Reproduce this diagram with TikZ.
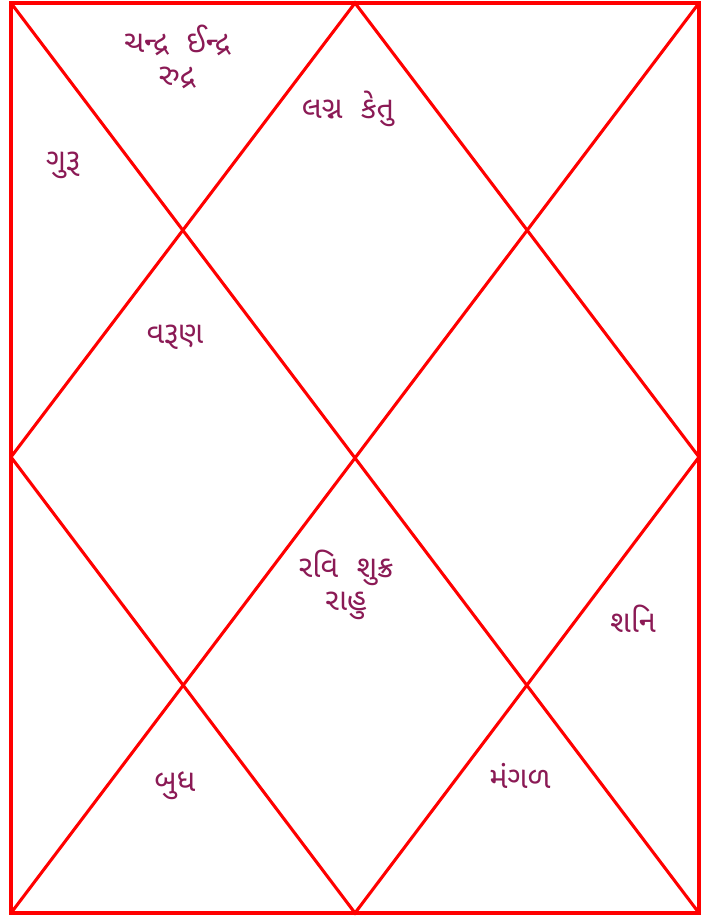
\documentclass[tikz,border=0pt]{standalone}
\usepackage{fontspec}
\usepackage{tikz}
\usetikzlibrary{positioning, calc}
\newfontfamily\gujfont[Script=Gujarati]{Noto Sans Gujarati UI}
\definecolor{chLine}{HTML}{FF0000}
\definecolor{chText}{HTML}{8B1A55}
\tikzset{
  chartline/.style={draw=chLine, line width=2.3pt, line join=miter},
  planet/.style={font=\gujfont\fontsize{23}{25}\selectfont, text=chText, align=center, inner sep=1pt}
}
\begin{document}
\begin{tikzpicture}[x=0.75pt, y=-0.75pt]
  \useasboundingbox (0,0) rectangle (712,920);
  % chart corners and midpoints
  \coordinate (tl) at (11,3);
  \coordinate (tr) at (699,3);
  \coordinate (br) at (699,913);
  \coordinate (bl) at (11,913);
  \coordinate (tm) at (355,3);
  \coordinate (rm) at (699,457);
  \coordinate (bm) at (355,913);
  \coordinate (lm) at (11,457);
  \draw[chartline] (tl) -- (tr) -- (br) -- (bl) -- cycle;
  \draw[chartline] (tl) -- (br);
  \draw[chartline] (tr) -- (bl);
  \draw[chartline] (tm) -- (rm) -- (bm) -- (lm) -- cycle;
  % houses
  \node[planet] (h12) at (177,57) {ચન્દ્ર\ \ ઈન્દ્ર\\રુદ્ર};
  \node[planet] (h1) at (348,109) {લગ્ન\ \ કેતુ};
  \node[planet] (h11) at (63,165) {ગુરૂ};
  \node[planet] (h10) at (175,337) {વરૂણ};
  \node[planet] (h7) at (346,585) {રવિ\ \ શુક્ર\\રાહુ};
  \node[planet] (h6) at (633,619) {શનિ};
  \node[planet] (h4) at (175,786) {બુધ};
  \node[planet] (h5) at (520,776) {મંગળ};
\end{tikzpicture}
\end{document}
